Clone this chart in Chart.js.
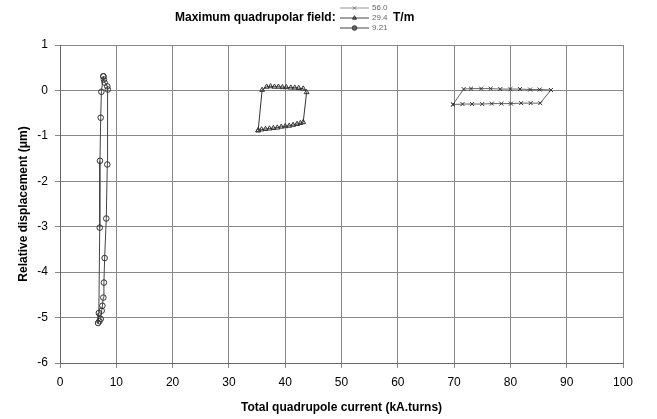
<!DOCTYPE html>
<html>
<head>
<meta charset="utf-8">
<script src="https://cdn.jsdelivr.net/npm/chart.js@4.4.1/dist/chart.umd.min.js"></script>
<style>
  html, body { margin: 0; padding: 0; background: #fff; }
  #wrap { width: 657px; height: 419px; position: relative; }
</style>
</head>
<body>
<div id="wrap"><canvas id="grafico"></canvas></div>
<script>
// 56.0 T/m loop (crosses)
const x56 = [69.8, 71.5, 73.2, 75.0, 76.7, 78.4, 80.1, 81.9, 83.6, 85.3, 87.2, 85.2, 83.5, 81.7, 80.0, 78.2, 76.5, 74.8, 73.0, 71.7, 69.8];
const y56 = [-0.31, -0.30, -0.30, -0.30, -0.29, -0.29, -0.29, -0.28, -0.28, -0.28, 0.01, 0.02, 0.02, 0.03, 0.03, 0.03, 0.04, 0.04, 0.04, 0.03, -0.31];

// 29.4 T/m loop (triangles)
const x294 = [35.2, 35.8, 36.5, 37.2, 37.9, 38.6, 39.3, 40.0, 40.7, 41.4, 42.1, 42.7, 43.2, 43.8, 43.2, 42.4, 41.7, 41.0, 40.2, 39.5, 38.8, 38.1, 37.4, 36.7, 35.9, 35.2];
const y294 = [-0.88, -0.86, -0.85, -0.84, -0.83, -0.82, -0.80, -0.79, -0.78, -0.76, -0.74, -0.72, -0.70, -0.04, 0.04, 0.05, 0.06, 0.06, 0.07, 0.07, 0.08, 0.08, 0.09, 0.08, 0.01, -0.88];

// 9.21 T/m loop (circles)
const x921 = [7.7, 7.35, 7.23, 7.1, 7.06, 6.9, 6.76, 7.0, 7.23, 7.4, 7.53, 7.7, 7.8, 7.93, 8.22, 8.4, 8.5, 8.4, 7.93, 7.8, 7.7];
const y921 = [0.31, -0.03, -0.6, -1.55, -3.02, -4.9, -5.12, -5.08, -5.03, -4.85, -4.74, -4.56, -4.23, -3.69, -2.82, -1.63, 0.02, 0.09, 0.17, 0.24, 0.31];

const xTicks = [0, 10, 20, 30, 40, 50, 60, 70, 80, 90, 100];
const yTicks = [-6, -5, -4, -3, -2, -1, 0, 1];

const rotulosSeries = ["56.0", "29.4", "9.21"];
const tituloTexto = "Maximum quadrupolar field:";
const unidadeTexto = "T/m";

function pontos(xs, ys) {
  return xs.map((x, i) => ({ x: x, y: ys[i] }));
}

const fonte = "'Liberation Sans', Arial, sans-serif";

const estilos = [
  { pointStyle: 'crossRot', line: '#666', point: '#333' },
  { pointStyle: 'triangle', line: '#333', point: '#333' },
  { pointStyle: 'circle', line: '#444', point: '#333' }
];

// title + little legend drawn above the plot
const tituloLegenda = {
  id: 'tituloLegenda',
  afterDraw(chart) {
    const ctx = chart.ctx;
    ctx.save();
    ctx.fillStyle = '#000';
    ctx.font = "bold 12px " + fonte;
    ctx.textAlign = 'left';
    ctx.textBaseline = 'middle';
    ctx.fillText(tituloTexto, 175, 18);

    const linhas = [8, 18, 28];
    chart.data.datasets.forEach((ds, i) => {
      const y = linhas[i];
      ctx.strokeStyle = i === 0 ? '#999' : '#444';
      ctx.lineWidth = 1;
      ctx.beginPath();
      ctx.moveTo(340, y);
      ctx.lineTo(369, y);
      ctx.stroke();
      ctx.strokeStyle = i === 0 ? '#777' : '#333';
      Chart.helpers.drawPoint(ctx, {
        pointStyle: ds.pointStyle, radius: 2.3, rotation: 0, borderWidth: 1
      }, 354.5, y);
      ctx.fillStyle = '#666';
      ctx.font = "8px " + fonte;
      ctx.textAlign = 'left';
      ctx.fillText(ds.label, 372, y);
    });

    ctx.fillStyle = '#000';
    ctx.font = "bold 12px " + fonte;
    ctx.textAlign = 'left';
    ctx.fillText(unidadeTexto, 393, 18);
    ctx.restore();
  }
};

const dadosSeries = [pontos(x56, y56), pontos(x294, y294), pontos(x921, y921)];

new Chart(document.getElementById('grafico'), {
  type: 'scatter',
  data: {
    datasets: dadosSeries.map((d, i) => ({
      label: rotulosSeries[i],
      data: d,
      showLine: true,
      borderColor: estilos[i].line,
      borderWidth: 1,
      pointStyle: estilos[i].pointStyle,
      pointRadius: 2.8,
      pointBorderColor: estilos[i].point,
      pointBackgroundColor: 'rgba(0,0,0,0)',
      pointBorderWidth: 1,
      tension: 0
    }))
  },
  options: {
    responsive: true,
    maintainAspectRatio: false,
    animation: false,
    layout: { padding: { top: 45, right: 34, left: 1, bottom: 0 } },
    plugins: {
      legend: { display: false },
      tooltip: { enabled: false }
    },
    scales: {
      x: {
        type: 'linear',
        min: 0,
        max: 100,
        afterBuildTicks: (s) => { s.ticks = xTicks.map(v => ({ value: v })); },
        afterFit: (s) => { s.height = 56; },
        grid: { color: '#888', lineWidth: 1, tickLength: 5, drawTicks: true },
        border: { color: '#666', width: 1 },
        ticks: { color: '#000', font: { family: fonte, size: 12 }, padding: 7, maxRotation: 0 },
        title: {
          display: true,
          text: 'Total quadrupole current (kA.turns)',
          color: '#000',
          font: { family: fonte, size: 12, weight: 'bold' },
          padding: { top: 0, bottom: 4 }
        }
      },
      y: {
        type: 'linear',
        min: -6,
        max: 1,
        afterBuildTicks: (s) => { s.ticks = yTicks.map(v => ({ value: v })); },
        afterFit: (s) => { s.width = 59; },
        grid: { color: '#888', lineWidth: 1, tickLength: 5 },
        border: { color: '#666', width: 1 },
        ticks: { color: '#000', font: { family: fonte, size: 12 }, padding: 7 },
        title: {
          display: true,
          text: 'Relative displacement (μm)',
          color: '#000',
          font: { family: fonte, size: 12, weight: 'bold' },
          padding: { top: 15, bottom: 0 }
        }
      }
    }
  },
  plugins: [tituloLegenda]
});
</script>
</body>
</html>
